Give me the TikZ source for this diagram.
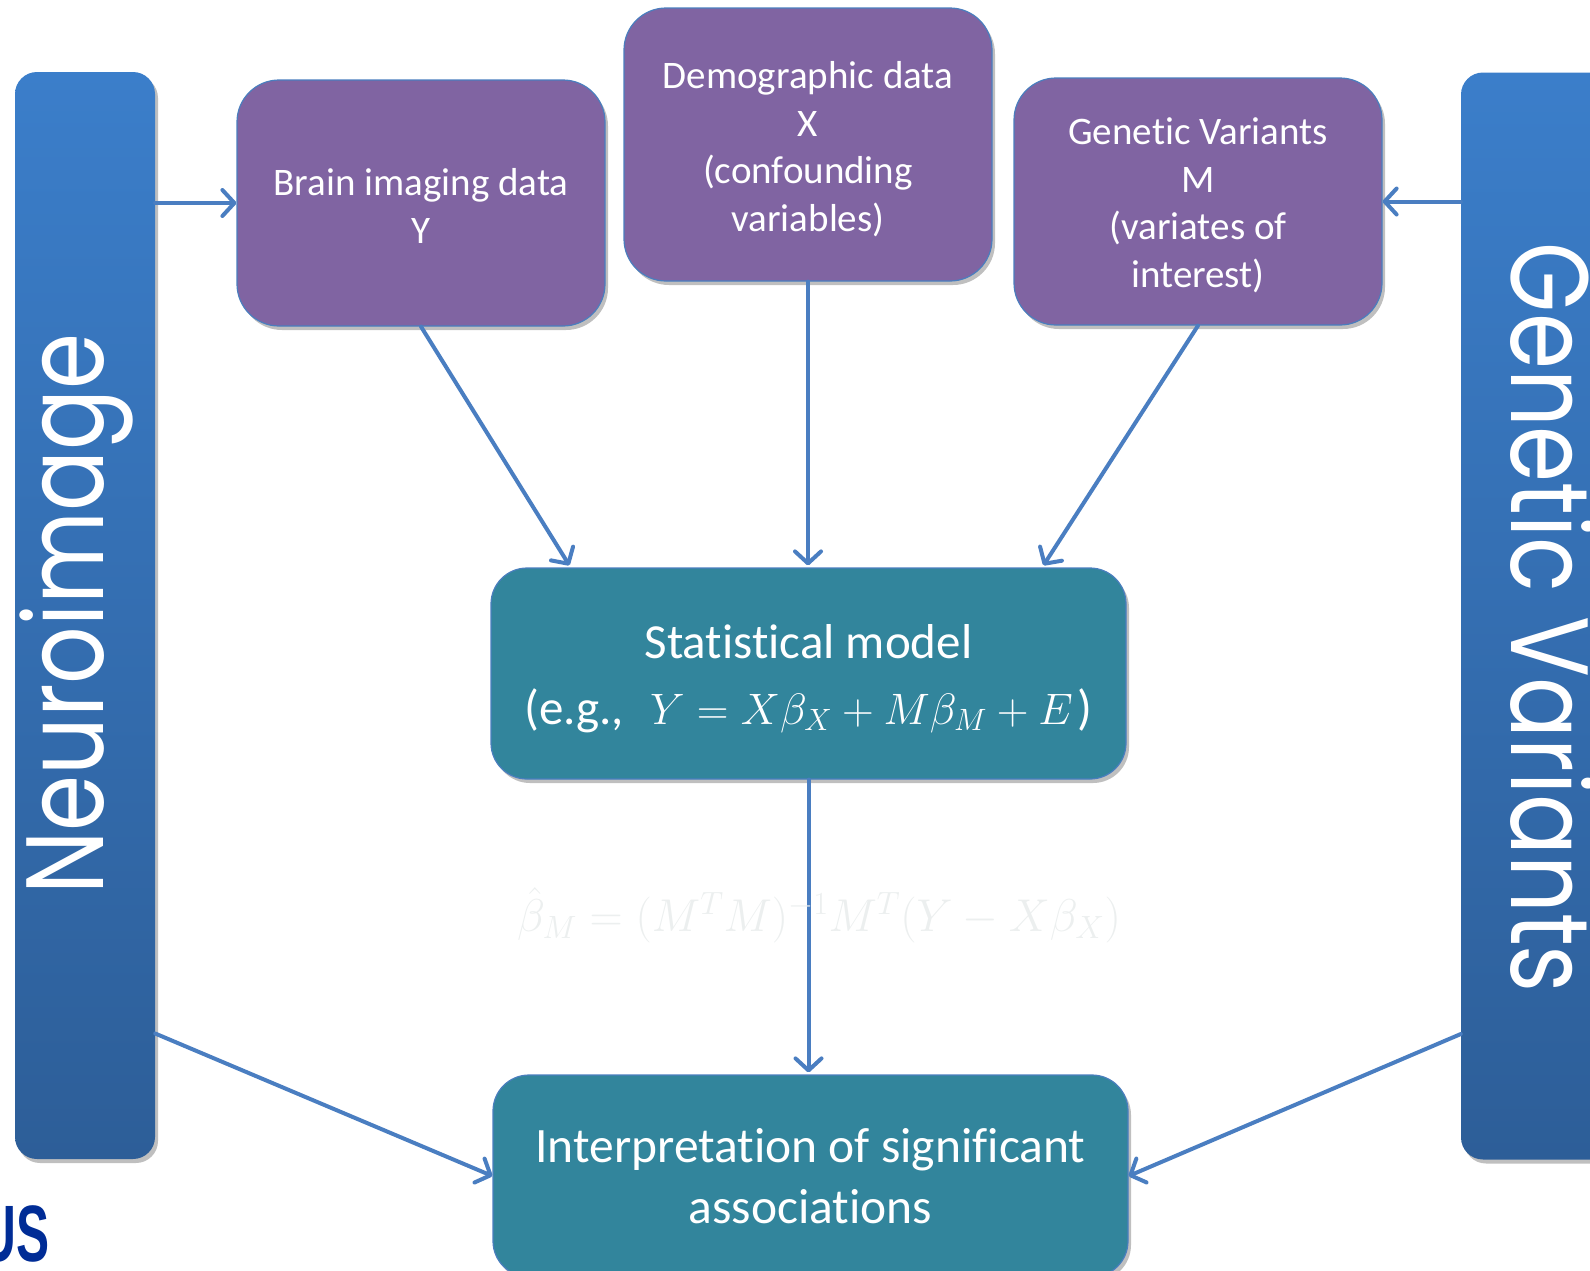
\RequirePackage{fix-cm}
\documentclass[tikz,border=0pt]{standalone}
\usepackage{fontspec}
\setmainfont{Carlito}[Ligatures=NoCommon, RawFeature={-liga;-clig;-dlig;-calt;-rlig}]
\newfontfamily\barfont{Poppins}
\newfontfamily\logofont{Liberation Sans}
\usetikzlibrary{arrows.meta,shadows,calc}
\definecolor{barTop}{RGB}{59,126,202}
\definecolor{barBot}{RGB}{45,94,152}
\definecolor{purp}{RGB}{128,100,162}
\definecolor{teal}{RGB}{50,133,156}
\definecolor{edgeblue}{RGB}{74,126,190}
\definecolor{arrowblue}{RGB}{74,126,193}
\definecolor{logoblue}{RGB}{0,44,150}
\definecolor{ghost}{RGB}{236,239,239}
\tikzset{
  boxbase/.style={rectangle, draw=edgeblue, line width=1.2pt, inner sep=0pt,
    drop shadow={shadow xshift=3pt, shadow yshift=-4pt, opacity=0.25, fill=black}},
  purplebox/.style={boxbase, fill=purp, rounded corners=42pt, minimum width=368pt},
  tealbox/.style={boxbase, fill=teal, rounded corners=36pt, minimum width=635pt},
  purpletext/.style={text=white, align=center, inner sep=0pt, font=\fontsize{39}{47.5}\selectfont},
  tealtext/.style={text=white, align=center, inner sep=0pt},
  sidebar/.style={rectangle, rounded corners=22pt, top color=barTop, bottom color=barBot,
    draw=none, inner sep=0pt, minimum height=1087pt,
    drop shadow={shadow xshift=3pt, shadow yshift=-4pt, opacity=0.25, fill=black}},
  bartext/.style={text=white, inner sep=0pt, font=\barfont\fontsize{110}{120}\selectfont},
  conn/.style={draw=arrowblue, line width=4pt, line cap=round,
    -{Straight Barb[length=12pt, width=26pt, line width=4pt, round]}},
}
\begin{document}
\begin{tikzpicture}[x=1pt, y=-1pt]
\useasboundingbox (0,0) rectangle (1590,1270);
\begin{scope}
\clip (0,0) rectangle (1590,1270);
% side bars
\node[sidebar, minimum width=140pt] (lbar) at (85,615.5) {};
\node[sidebar, minimum width=160pt] (rbar) at (1541,616) {};
\node[bartext, rotate=90, xscale=0.82] (ltext) at (76,614) {Neuroimage};
\node[bartext, rotate=-90, xscale=0.82] (rtext) at (1553,618) {Genetic Variants};
% top boxes
\node[purplebox, minimum height=246pt] (brain) at (421,203) {};
\node[purpletext] (brainT) at ($(brain.center)+(0,3)$) {Brain imaging data\\Y};
\node[purplebox, minimum height=273pt] (demo) at (808,144.5) {};
\node[purpletext] (demoT) at ($(demo.center)+(0,4.5)$) {Demographic data\\X\\(confounding\\variables)};
\node[purplebox, minimum height=247pt] (gen) at (1198,201.5) {};
\node[purpletext] (genT) at ($(gen.center)+(0,4)$) {Genetic Variants\\M\\(variates of\\interest)};
% model boxes
\node[tealbox, minimum height=211pt] (stat) at (808.5,673.5) {};
\node[tealtext, font=\fontsize{49}{66}\selectfont] (statT) at ($(stat.center)+(0,5)$)
  {Statistical model\\(e.g.,\hspace{26pt}{\fontsize{44}{66}\selectfont$Y = X\beta_X + M\beta_M + E$}\hspace{5pt})};
\node[tealbox, minimum height=202pt] (interp) at (810.5,1176) {};
\node[tealtext, font=\fontsize{49.5}{61}\selectfont] (interpT) at (interp.center)
  {Interpretation of significant\\associations};
% logo fragment
\node[anchor=south east, inner sep=0pt, text=logoblue, xscale=0.62,
  font=\logofont\bfseries\fontsize{80}{80}\selectfont] (logo) at (50,1262) {US};
\end{scope}
% connector end points
\coordinate (statA) at ($(stat.north west)+(79,-2)$);
\coordinate (statB) at ($(stat.north west)+(553,-2)$);
% connectors
\draw[conn] (brain.west -| lbar.east) -- (brain.west);
\draw[conn] (gen.east -| rbar.west) -- (gen.east);
\draw[conn] (brain.south) -- (statA);
\draw[conn] (demo.south) -- ($(demo.south |- stat.north)+(0,-2)$);
\draw[conn] (gen.south) -- (statB);
\draw[conn] (stat.south) -- ($(stat.south |- interp.north)+(0,-2)$);
\draw[conn] ($(lbar.east)+(0,418)$) -- (interp.west);
\draw[conn] ($(rbar.west)+(0,418)$) -- (interp.east);
% ghost formula
\node[text=ghost, inner sep=0pt, font=\fontsize{46}{50}\selectfont] (ghostf) at (819,915)
  {$\hat{\beta}_M = (M^T M)^{-1} M^T (Y - X\beta_X)$};
\end{tikzpicture}
\end{document}
